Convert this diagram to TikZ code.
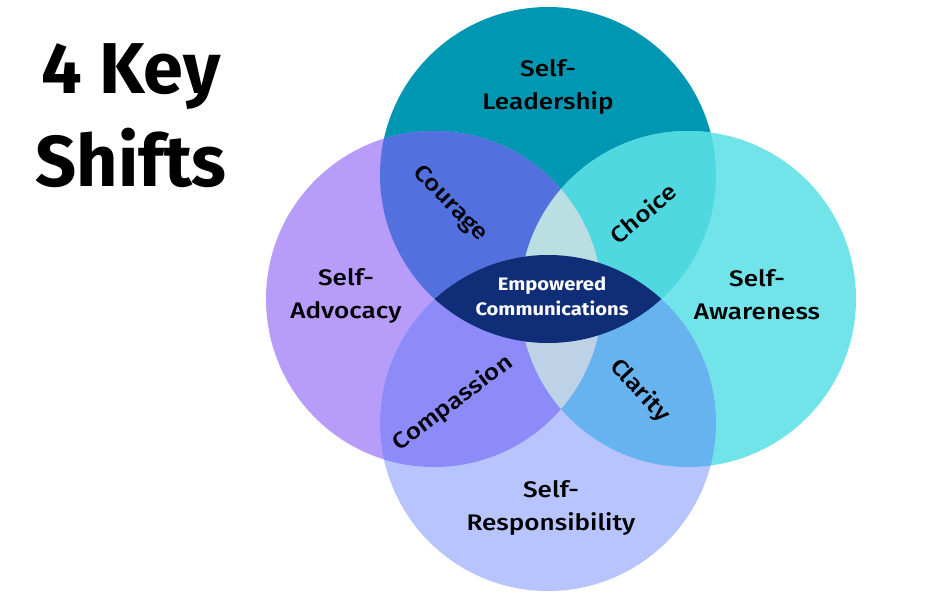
\documentclass[tikz,border=0pt]{standalone}
\usepackage{fontspec}
\setmainfont{Fira Sans}
\newfontfamily\medfont{Fira Sans Medium}[FakeStretch=1.16]
\newfontfamily\corefont{Fira Sans}[FakeStretch=1.12]
\definecolor{vtop}{HTML}{0097B2}
\definecolor{vright}{HTML}{71E4EA}
\definecolor{vleft}{HTML}{B89CF9}
\definecolor{vbottom}{HTML}{B8C4FE}
\definecolor{vcourage}{HTML}{5271DF}
\definecolor{vchoice}{HTML}{4FD8DF}
\definecolor{vcompassion}{HTML}{8D8BF9}
\definecolor{vclarity}{HTML}{66B3F0}
\definecolor{vpaletop}{HTML}{BADEE2}
\definecolor{vpalebot}{HTML}{BDD1E7}
\definecolor{vcore}{HTML}{102E77}
\newcommand\vennr{168pt}
\newcommand\overlap[3]{%
  \begin{scope}\clip (#1) circle[radius=\vennr];
    \fill[#3] (#2) circle[radius=\vennr];\end{scope}}

\begin{document}
\begin{tikzpicture}[x=1pt, y=-1pt,
    shiftlbl/.style={align=center, text=black, inner sep=0pt,
                 font=\medfont\fontsize{22.5}{33}\selectfont},
    overlbl/.style={shiftlbl, font=\medfont\fontsize{22.5}{26}\selectfont},
    corelbl/.style={align=center, text=white, inner sep=0pt,
                 font=\corefont\bfseries\fontsize{18}{25}\selectfont}
  ]
    \useasboundingbox[fill=white] (0,0) rectangle (933,611);
    \coordinate (ctop) at (548,175);
    \coordinate (cbot) at (548,423);
    \coordinate (clft) at (434,299);
    \coordinate (crgt) at (688,299);

    \fill[vtop] (ctop) circle[radius=\vennr];
    \fill[vright] (crgt) circle[radius=\vennr];
    \fill[vleft] (clft) circle[radius=\vennr];
    \fill[vbottom] (cbot) circle[radius=\vennr];
    \overlap{ctop}{clft}{vcourage}
    \overlap{ctop}{crgt}{vchoice}
    \overlap{cbot}{clft}{vcompassion}
    \overlap{cbot}{crgt}{vclarity}
    \begin{scope}
      \clip (clft) circle[radius=\vennr];
      \overlap{ctop}{crgt}{vpaletop}
      \overlap{cbot}{crgt}{vpalebot}
    \end{scope}
    \overlap{ctop}{cbot}{vcore}

    \node[align=center, inner sep=0pt, font=\bfseries\fontsize{72}{93}\selectfont]
      (title) at (131,116) {4 Key\\Shifts};

    \node[shiftlbl] (lead) at (548,87) {Self-\\Leadership};
    \node[shiftlbl] (aware) at (757,295) {Self-\\Awareness};
    \node[shiftlbl] (advoc) at (346,296) {Self-\\Advocacy};
    \node[shiftlbl] (resp) at (551,508) {Self-\\Responsibility};

    \node[overlbl, rotate=-46] (courage) at (450,204) {Courage};
    \node[overlbl, rotate=40] (choice) at (643,213) {Choice};
    \node[overlbl, rotate=37] (compassion) at (453,403) {Compassion};
    \node[overlbl, rotate=-47] (clarity) at (640,391) {Clarity};

    \node[corelbl] (core) at (552,296) {Empowered\\Communications};
  \end{tikzpicture}
\end{document}
